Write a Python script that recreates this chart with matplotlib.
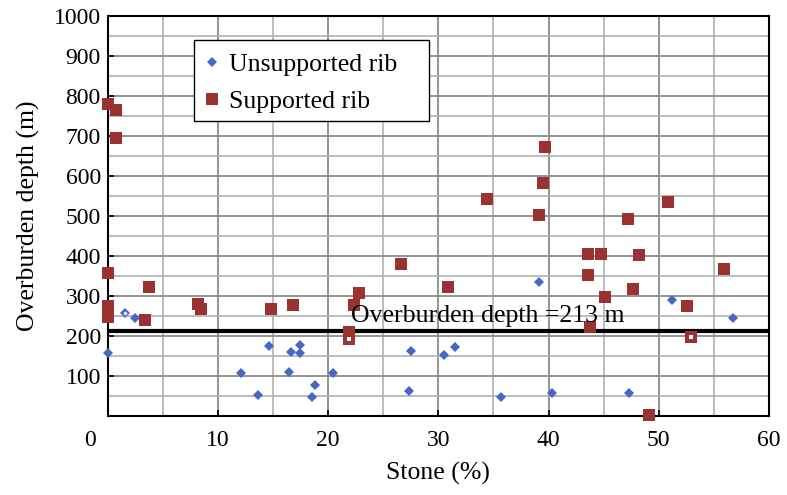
import numpy as np
import matplotlib.pyplot as plt
from matplotlib.ticker import MultipleLocator
from matplotlib.patches import Rectangle

plt.rcParams['font.family'] = ['Liberation Serif', 'DejaVu Serif']

# unsupported rib cases: stone content (%) and overburden depth (m)
unsup_stone = [0.0, 1.6, 2.5, 12.1, 13.6, 14.6, 16.4, 16.6, 17.4, 17.4, 18.8, 18.5,
               20.4, 27.5, 27.3, 30.5, 31.5, 35.7, 39.1, 40.3, 47.3, 51.2, 56.7]
unsup_depth = [156, 258, 245, 107, 51, 174, 110, 159, 176, 158, 77, 46,
               107, 162, 61, 151, 172, 48, 335, 57, 56, 290, 244]

# supported rib cases
sup_stone = [0.0, 0.7, 0.7, 0.0, 0.0, 0.0, 3.7, 3.4, 8.2, 8.5, 14.8, 16.8,
             22.8, 22.3, 21.9, 21.9, 26.6, 30.9, 34.4, 39.1, 39.5, 39.7,
             43.6, 43.6, 43.8, 44.8, 45.1, 47.2, 47.7, 48.2, 49.1, 50.8,
             52.6, 52.9, 55.9]
sup_depth = [779, 764, 695, 357, 275, 246, 322, 239, 279, 268, 268, 277,
             306, 277, 210, 192, 379, 321, 543, 503, 581, 672,
             404, 352, 223, 404, 297, 493, 318, 401, 1, 535,
             275, 198, 366]
sup_hollow = [15, 33]   # overlapping points shown with an open centre
unsup_hollow = [1]

limit_depth = 213

blue = '#4468c4'
red = '#9b3232'

fig = plt.figure(figsize=(7.87, 4.95), dpi=100)
ax = fig.add_axes([0.137, 0.16, 0.840, 0.808])

ax.plot(unsup_stone, unsup_depth, 'D', color=blue, ms=5.5, mew=0,
        label='Unsupported rib', zorder=3, clip_on=False)
ax.plot(sup_stone, sup_depth, 's', color=red, ms=8.3, mew=0,
        label='Supported rib', zorder=3, clip_on=False)
ax.plot([sup_stone[i] for i in sup_hollow], [sup_depth[i] for i in sup_hollow],
        's', color='white', ms=3.5, mew=0, zorder=4)
ax.plot([unsup_stone[i] for i in unsup_hollow], [unsup_depth[i] for i in unsup_hollow],
        'D', color='white', ms=2.2, mew=0, zorder=4)

ax.axhline(limit_depth, color='black', lw=3, zorder=2)
ax.text(22.1, limit_depth + 9, 'Overburden depth =%d m' % limit_depth,
        fontsize=18.6, va='bottom', ha='left', zorder=5)

xt = np.arange(0, 61, 10)
yt = np.arange(0, 1001, 100)
ax.set_xticks(xt)
ax.set_yticks(yt)
# the shared origin label sits below-left of the corner
ax.set_xticklabels([''] + ['%d' % v for v in xt[1:]])
ax.set_yticklabels([''] + ['%d' % v for v in yt[1:]])
ax.xaxis.set_minor_locator(MultipleLocator(5))
ax.yaxis.set_minor_locator(MultipleLocator(50))
ax.set_xlim(0, 60)
ax.set_ylim(0, 1000)
ax.annotate('0', xy=(0, 0), xycoords='axes fraction', xytext=(-13, -10),
            textcoords='offset points', ha='center', va='top', fontsize=17)

ax.grid(which='major', color='#8a8a8a', lw=1.3, zorder=0)
ax.grid(which='minor', color='#b0b0b0', lw=1.2, zorder=0)
ax.set_axisbelow(True)

ax.tick_params(which='both', direction='in', labelsize=17)
ax.tick_params(which='major', length=4, width=1.2)
ax.tick_params(which='minor', length=0)
ax.tick_params(axis='x', pad=10)
ax.tick_params(axis='y', pad=5)
for sp in ax.spines.values():
    sp.set_color('black')
    sp.set_linewidth(1.5)

ax.set_xlabel('Stone (%)', fontsize=18.5, labelpad=8)
ax.set_ylabel('Overburden depth (m)', fontsize=18.5, labelpad=10)

leg = ax.legend(loc='upper left', bbox_to_anchor=(0.142, 0.907), fontsize=18.5,
                frameon=False, borderaxespad=0, borderpad=0, handletextpad=0.25,
                handlelength=0.8, labelspacing=0.55)
ax.add_patch(Rectangle((0.130, 0.7375), 0.356, 0.2025, transform=ax.transAxes,
                       facecolor='white', edgecolor='black', lw=1.0, zorder=5))
leg.set_zorder(6)

fig.savefig('out.png', dpi=100)
